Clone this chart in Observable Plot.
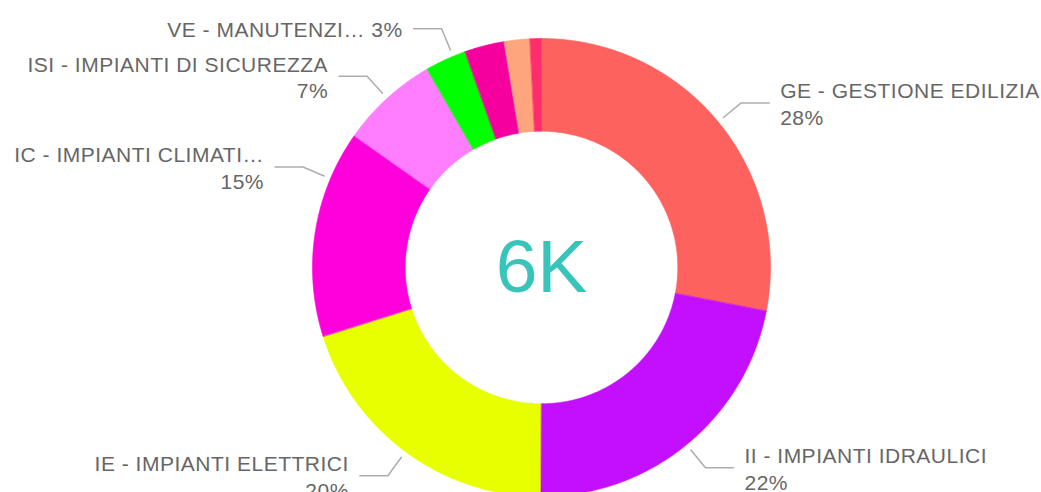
<!DOCTYPE html>
<html>
<head>
<meta charset="utf-8">
<script src="https://cdn.jsdelivr.net/npm/d3@7"></script>
<script src="https://cdn.jsdelivr.net/npm/@observablehq/plot@0.6"></script>
<style>
  html, body { margin: 0; padding: 0; background: #fff; }
  #chart svg { display: block; }
  #chart svg .lbl, #chart svg .lbl text { letter-spacing: 0.5px; }
</style>
</head>
<body>
<div id="chart"></div>
<script>
// ---- data ----
const categories = ["GE", "II", "IE", "IC", "ISI", "VE", "Altro A", "Altro B", "Altro C"];
const values = [1680, 1320, 1200, 876, 414, 174, 168, 108, 48];
const colors = ["#FD625E", "#C40FFF", "#E8FF00", "#FF00DC", "#FF7DFF", "#00FF00", "#F5009F", "#FFA57D", "#FF2D6B"];
const labelNames = ["GE - GESTIONE EDILIZIA", "II - IMPIANTI IDRAULICI", "IE - IMPIANTI ELETTRICI", "IC - IMPIANTI CLIMATI…", "ISI - IMPIANTI DI SICUREZZA", "VE - MANUTENZI…", null, null, null];
const singleLine = [false, false, false, false, false, true, false, false, false];
// label angle shift (degrees) applied by the layout to avoid collisions
const labelShift = [0, 0, 0, 14, 0, 2, 0, 0, 0];

// ---- layout ----
const W = 1041, H = 492;
const cx = 541, cy = 267, R = 229;
const inner = 0.595;
const fontFam = "Liberation Sans, Arial, sans-serif";

const total = d3.sum(values);
const pie = d3.pie().sort(null).value(d => d.value)(categories.map((c, i) => ({cat: c, value: values[i], i})));

// polygon points for each slice (unit radius = R pixels)
const slicePts = [];
for (const s of pie) {
  const n = Math.max(4, Math.ceil((s.endAngle - s.startAngle) / (Math.PI / 360)));
  for (let k = 0; k <= n; k++) {
    const a = s.startAngle + (s.endAngle - s.startAngle) * k / n;
    slicePts.push({cat: s.data.cat, x: Math.sin(a), y: Math.cos(a)});
  }
  for (let k = n; k >= 0; k--) {
    const a = s.startAngle + (s.endAngle - s.startAngle) * k / n;
    slicePts.push({cat: s.data.cat, x: inner * Math.sin(a), y: inner * Math.cos(a)});
  }
}

// leader lines and labels
const leaderPts = [];
const labels = [];
for (const s of pie) {
  const i = s.data.i;
  if (!labelNames[i]) continue;
  const a = (s.startAngle + s.endAngle) / 2 + labelShift[i] * Math.PI / 180;
  const right = Math.sin(a) >= 0;
  const p0 = {x: 1.03 * Math.sin(a), y: 1.03 * Math.cos(a)};
  const p1 = {x: 1.13 * Math.sin(a), y: 1.13 * Math.cos(a)};
  const p2 = {x: p1.x + (right ? 28 : -28) / R, y: p1.y};
  for (const p of [p0, p1, p2]) leaderPts.push({cat: s.data.cat, ...p});
  const pct = Math.round(s.data.value / total * 100) + "%";
  labels.push({
    x: p2.x, y: p2.y, right,
    text: singleLine[i] ? labelNames[i] + " " + pct : labelNames[i] + "\n" + pct
  });
}

const chart = Plot.plot({
  width: W,
  height: H,
  margin: 0,
  x: {domain: [-cx / R, (W - cx) / R], axis: null},
  y: {domain: [-(H - cy) / R, cy / R], axis: null},
  color: {domain: categories, range: colors},
  style: {background: "#fff", overflow: "visible"},
  marks: [
    Plot.line(slicePts, {x: "x", y: "y", z: "cat", fill: "cat", stroke: "cat", strokeWidth: 0.6, curve: "linear-closed"}),
    Plot.line(leaderPts, {x: "x", y: "y", z: "cat", stroke: "#ADADAD", strokeWidth: 1.5}),
    Plot.text(labels.filter(d => d.right), {x: "x", y: "y", text: "text", textAnchor: "start", dx: 11, lineAnchor: "middle", lineHeight: 1.28, fontSize: 21, fontFamily: fontFam, fill: "#666", className: "lbl"}),
    Plot.text(labels.filter(d => !d.right), {x: "x", y: "y", text: "text", textAnchor: "end", dx: -11, lineAnchor: "middle", lineHeight: 1.28, fontSize: 21, fontFamily: fontFam, fill: "#666", className: "lbl"}),
    Plot.text([total], {x: () => 0, y: () => 0, text: d => Math.round(d / 1000) + "K", fontSize: 75, fontFamily: fontFam, fill: "#38C4BA", lineAnchor: "middle"})
  ]
});
document.getElementById("chart").appendChild(chart);
</script>
</body>
</html>
